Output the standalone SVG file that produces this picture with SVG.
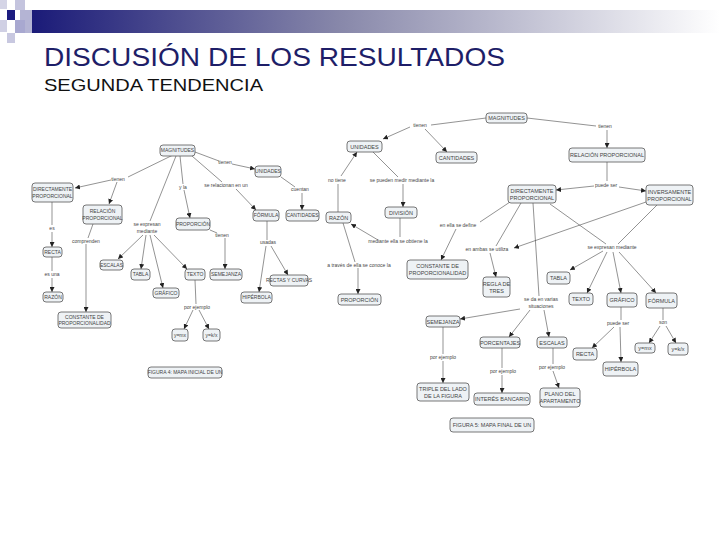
<svg xmlns="http://www.w3.org/2000/svg" width="720" height="540" viewBox="0 0 720 540">
<style>
.n rect{fill:#eef2f5;stroke:#555;stroke-width:0.8}
.n text{font-family:"Liberation Sans",Arial,sans-serif;font-size:5px;fill:#444;text-anchor:middle}
.r text{font-size:5.5px}
.l{font-family:"Liberation Sans",Arial,sans-serif;font-size:5px;fill:#444;text-anchor:middle}
.c path{fill:none;stroke:#4a4a4a;stroke-width:0.6}
.c path.a{marker-end:url(#ah)}
</style>
<defs>
<marker id="ah" markerUnits="userSpaceOnUse" markerWidth="5" markerHeight="5" refX="5" refY="2.5" orient="auto"><path d="M0,0 L5,2.5 L0,5 z" fill="#222"/></marker>
<linearGradient id="bar" x1="0" y1="0" x2="1" y2="0"><stop offset="0" stop-color="#1a1a78"/><stop offset="0.45" stop-color="#8888aa"/><stop offset="1" stop-color="#ffffff"/></linearGradient>
</defs>
<rect width="720" height="540" fill="#fff"/>
<g id="header">
<rect x="30" y="10" width="690" height="23" fill="url(#bar)"/>
<rect x="0" y="0" width="7" height="9" fill="#d4d4e6"/>
<rect x="15" y="0" width="10" height="10" fill="#c4c4de"/>
<rect x="7" y="10" width="8" height="10" fill="#1c1c80"/>
<rect x="20" y="10" width="12" height="23" fill="#b4b4d4"/>
<rect x="0" y="20" width="7" height="12" fill="#d0d0e4"/>
<rect x="15" y="20" width="10" height="13" fill="#a8a8d0"/>
<rect x="7" y="33" width="8" height="10" fill="#c8c8e0"/>
<text x="44" y="66" font-family="Liberation Sans,Arial,sans-serif" font-size="25" fill="#1e1e68" textLength="461" lengthAdjust="spacingAndGlyphs">DISCUSIÓN DE LOS RESULTADOS</text>
<text x="44" y="91" font-family="Liberation Sans,Arial,sans-serif" font-size="17" fill="#111" textLength="219" lengthAdjust="spacingAndGlyphs">SEGUNDA TENDENCIA</text>
</g>
<g id="connectors" class="c">
<path d="M173,155 L128,177"/>
<path class="a" d="M111,180 L75,188"/>
<path class="a" d="M117,182 L109,204"/>
<path d="M52,202 L52,225"/>
<path class="a" d="M52,232 L52,247"/>
<path d="M52,257 L52,271"/>
<path class="a" d="M52,278 L52,292"/>
<path d="M93,224 L88,238"/>
<path class="a" d="M86,244 L86,312"/>
<path d="M176,156 L150,221"/>
<path class="a" d="M143,235 L118,259"/>
<path class="a" d="M146,235 L141,269"/>
<path class="a" d="M150,235 L163,288"/>
<path class="a" d="M154,235 L187,269"/>
<path d="M180,156 L183,184"/>
<path class="a" d="M184,190 L190,218"/>
<path d="M195,152 L219,161"/>
<path class="a" d="M232,164 L255,169"/>
<path d="M192,156 L222,182"/>
<path class="a" d="M236,189 L256,210"/>
<path d="M281,177 L295,187"/>
<path class="a" d="M302,193 L302,210"/>
<path d="M210,230 L217,233"/>
<path class="a" d="M225,238 L225,269"/>
<path d="M267,221 L267,240"/>
<path class="a" d="M266,246 L259,292"/>
<path class="a" d="M271,246 L288,275"/>
<path d="M195,280 L196,304" stroke="#999"/>
<path class="a" d="M193,310 L184,329"/>
<path class="a" d="M199,310 L209,329"/>
<path d="M486,118 L431,125"/>
<path class="a" d="M410,127 L383,139"/>
<path class="a" d="M425,129 L447,152"/>
<path d="M527,118 L596,126"/>
<path class="a" d="M607,130 L607,148"/>
<path d="M607,162 L607,181"/>
<path class="a" d="M594,186 L556,190"/>
<path class="a" d="M619,187 L646,191"/>
<path d="M373,152 L398,177"/>
<path class="a" d="M403,184 L403,207"/>
<path d="M338,212 L338,184"/>
<path class="a" d="M341,176 L357,152"/>
<path d="M400,218 L400,237"/>
<path class="a" d="M378,240 L351,224"/>
<path d="M343,223 L355,262"/>
<path class="a" d="M358,268 L358,294"/>
<path d="M510,202 L480,222"/>
<path class="a" d="M456,229 L441,260"/>
<path d="M521,203 L496,246"/>
<path class="a" d="M646,202 L514,248"/>
<path class="a" d="M490,253 L496,277"/>
<path d="M533,203 L539,296"/>
<path d="M550,204 L606,244"/>
<path d="M657,205 L618,244"/>
<path class="a" d="M603,251 L570,270"/>
<path class="a" d="M607,252 L587,293"/>
<path class="a" d="M613,252 L621,293"/>
<path class="a" d="M619,252 L656,293"/>
<path class="a" d="M520,309 L460,319"/>
<path class="a" d="M530,310 L509,337"/>
<path class="a" d="M544,310 L549,337"/>
<path d="M443,327 L443,354"/>
<path class="a" d="M443,361 L443,383"/>
<path d="M502,348 L502,368"/>
<path class="a" d="M502,375 L502,393"/>
<path d="M553,348 L553,364"/>
<path class="a" d="M553,371 L559,388"/>
<path d="M621,307 L621,320"/>
<path class="a" d="M614,327 L592,348"/>
<path class="a" d="M620,327 L621,362"/>
<path d="M663,308 L663,320"/>
<path class="a" d="M660,326 L649,343"/>
<path class="a" d="M666,326 L676,343"/>
</g>
<g id="linklabels" class="l">
<text class="l" x="118" y="181">tienen</text>
<text class="l" x="52" y="230">es</text>
<text class="l" x="86" y="243">comprenden</text>
<text class="l" x="147" y="226">se expresan</text>
<text class="l" x="147" y="233">mediante</text>
<text class="l" x="183" y="189">y la</text>
<text class="l" x="225" y="164">tienen</text>
<text class="l" x="226" y="187">se relacionan en un</text>
<text class="l" x="300" y="191">cuentan</text>
<text class="l" x="222" y="237">tienen</text>
<text class="l" x="268" y="244">usadas</text>
<text class="l" x="52" y="276">es una</text>
<text class="l" x="197" y="309">por ejemplo</text>
<text class="l" x="420" y="127">tienen</text>
<text class="l" x="605" y="128">tienen</text>
<text class="l" x="606" y="187">puede ser</text>
<text class="l" x="337" y="182">no tiene</text>
<text class="l" x="402" y="182">se pueden medir mediante la</text>
<text class="l" x="458" y="227">en ella se define</text>
<text class="l" x="398" y="243">mediante ella se obtiene la</text>
<text class="l" x="359" y="267">a través de ella se conoce la</text>
<text class="l" x="487" y="251">en ambas se utiliza</text>
<text class="l" x="612" y="249">se expresan mediante</text>
<text class="l" x="541" y="301">se da en varias</text>
<text class="l" x="541" y="308">situaciones</text>
<text class="l" x="618" y="325">puede ser</text>
<text class="l" x="663" y="324">son</text>
<text class="l" x="443" y="359">por ejemplo</text>
<text class="l" x="503" y="373">por ejemplo</text>
<text class="l" x="552" y="369">por ejemplo</text>
</g>
<g id="L1" class="n"><rect x="160" y="145" width="35" height="11" rx="3"/><text x="177.5" y="152.3">MAGNITUDES</text></g>
<g id="L2" class="n"><rect x="32" y="183" width="41" height="19" rx="3"/><text x="52.5" y="191">DIRECTAMENTE</text><text x="52.5" y="198">PROPORCIONAL</text></g>
<g id="L3" class="n"><rect x="83" y="205" width="39" height="19" rx="3"/><text x="102.5" y="213">RELACIÓN</text><text x="102.5" y="220">PROPORCIONAL</text></g>
<g id="L4" class="n"><rect x="43" y="247" width="19" height="10" rx="3"/><text x="52.5" y="253.8">RECTA</text></g>
<g id="L5" class="n"><rect x="43" y="292" width="20" height="10" rx="3"/><text x="53" y="298.8">RAZÓN</text></g>
<g id="L6" class="n"><rect x="58" y="312" width="53" height="16" rx="3"/><text x="84.5" y="319">CONSTANTE DE</text><text x="84.5" y="325">PROPORCIONALIDAD</text></g>
<g id="L7" class="n"><rect x="255" y="166" width="26" height="11" rx="3"/><text x="268" y="173.3">UNIDADES</text></g>
<g id="L8" class="n"><rect x="176" y="218" width="34" height="12" rx="3"/><text x="193" y="225.8">PROPORCIÓN</text></g>
<g id="L9" class="n"><rect x="253" y="210" width="26" height="11" rx="3"/><text x="266" y="217.3">FÓRMULA</text></g>
<g id="L10" class="n"><rect x="286" y="210" width="33" height="11" rx="3"/><text x="302.5" y="217.3">CANTIDADES</text></g>
<g id="L11" class="n"><rect x="100" y="260" width="23" height="10" rx="3"/><text x="111.5" y="266.8">ESCALAS</text></g>
<g id="L12" class="n"><rect x="131" y="269" width="19" height="11" rx="3"/><text x="140.5" y="276.3">TABLA</text></g>
<g id="L13" class="n"><rect x="153" y="288" width="26" height="10" rx="3"/><text x="166" y="294.8">GRÁFICO</text></g>
<g id="L14" class="n"><rect x="185" y="269" width="20" height="11" rx="3"/><text x="195" y="276.3">TEXTO</text></g>
<g id="L15" class="n"><rect x="210" y="269" width="32" height="11" rx="3"/><text x="226" y="276.3">SEMEJANZA</text></g>
<g id="L16" class="n"><rect x="241" y="292" width="31" height="11" rx="3"/><text x="256.5" y="299.3">HIPÉRBOLA</text></g>
<g id="L17" class="n"><rect x="270" y="275" width="38" height="11" rx="3"/><text x="289" y="282.3">RECTAS Y CURVAS</text></g>
<g id="L18" class="n"><rect x="172" y="329" width="16" height="12" rx="3"/><text x="180" y="336.8">y=mx</text></g>
<g id="L19" class="n"><rect x="203" y="329" width="17" height="12" rx="3"/><text x="211.5" y="336.8">y=k/x</text></g>
<g id="L20" class="n"><rect x="148" y="367" width="74" height="11" rx="3"/><text x="185" y="374.3">FIGURA 4: MAPA INICIAL DE UN</text></g>
<g id="R1" class="n r"><rect x="486" y="113" width="41" height="10" rx="3"/><text x="506.5" y="120">MAGNITUDES</text></g>
<g id="R2" class="n r"><rect x="347" y="141" width="35" height="11" rx="3"/><text x="364.5" y="148.5">UNIDADES</text></g>
<g id="R3" class="n r"><rect x="436" y="152" width="41" height="11" rx="3"/><text x="456.5" y="159.5">CANTIDADES</text></g>
<g id="R4" class="n r"><rect x="569" y="148" width="76" height="14" rx="3"/><text x="607" y="157">RELACIÓN PROPORCIONAL</text></g>
<g id="R5" class="n r"><rect x="508" y="185" width="48" height="18" rx="3"/><text x="532" y="192.5">DIRECTAMENTE</text><text x="532" y="199.5">PROPORCIONAL</text></g>
<g id="R6" class="n r"><rect x="646" y="185" width="47" height="20" rx="3"/><text x="669.5" y="193.5">INVERSAMENTE</text><text x="669.5" y="200.5">PROPORCIONAL</text></g>
<g id="R7" class="n r"><rect x="326" y="212" width="25" height="11" rx="3"/><text x="338.5" y="219.5">RAZÓN</text></g>
<g id="R8" class="n r"><rect x="385" y="207" width="32" height="11" rx="3"/><text x="401" y="214.5">DIVISIÓN</text></g>
<g id="R9" class="n r"><rect x="407" y="260" width="61" height="19" rx="3"/><text x="437.5" y="268">CONSTANTE DE</text><text x="437.5" y="275">PROPORCIONALIDAD</text></g>
<g id="R10" class="n r"><rect x="338" y="294" width="43" height="11" rx="3"/><text x="359.5" y="301.5">PROPORCIÓN</text></g>
<g id="R11" class="n r"><rect x="483" y="277" width="27" height="20" rx="3"/><text x="496.5" y="285.5">REGLA DE</text><text x="496.5" y="292.5">TRES</text></g>
<g id="R12" class="n r"><rect x="547" y="272" width="23" height="12" rx="3"/><text x="558.5" y="280">TABLA</text></g>
<g id="R13" class="n r"><rect x="569" y="293" width="24" height="12" rx="3"/><text x="581" y="301">TEXTO</text></g>
<g id="R14" class="n r"><rect x="607" y="293" width="30" height="14" rx="3"/><text x="622" y="302">GRÁFICO</text></g>
<g id="R15" class="n r"><rect x="646" y="293" width="31" height="15" rx="3"/><text x="661.5" y="302.5">FÓRMULA</text></g>
<g id="R16" class="n r"><rect x="426" y="316" width="34" height="11" rx="3"/><text x="443" y="323.5">SEMEJANZA</text></g>
<g id="R17" class="n r"><rect x="480" y="337" width="40" height="11" rx="3"/><text x="500" y="344.5">PORCENTAJES</text></g>
<g id="R18" class="n r"><rect x="537" y="337" width="30" height="11" rx="3"/><text x="552" y="344.5">ESCALAS</text></g>
<g id="R19" class="n r"><rect x="573" y="348" width="24" height="12" rx="3"/><text x="585" y="356">RECTA</text></g>
<g id="R20" class="n r"><rect x="603" y="362" width="35" height="14" rx="3"/><text x="620.5" y="371">HIPÉRBOLA</text></g>
<g id="R21" class="n r"><rect x="635" y="343" width="20" height="10" rx="3"/><text x="645" y="350">y=mx</text></g>
<g id="R22" class="n r"><rect x="668" y="343" width="20" height="12" rx="3"/><text x="678" y="351">y=k/x</text></g>
<g id="R23" class="n r"><rect x="417" y="383" width="52" height="18" rx="3"/><text x="443" y="390.5">TRIPLE DEL LADO</text><text x="443" y="397.5">DE LA FIGURA</text></g>
<g id="R24" class="n r"><rect x="474" y="393" width="56" height="12" rx="3"/><text x="502" y="401">INTERÉS BANCARIO</text></g>
<g id="R25" class="n r"><rect x="540" y="388" width="40" height="19" rx="3"/><text x="560" y="396">PLANO DEL</text><text x="560" y="403">APARTAMENTO</text></g>
<g id="R26" class="n r"><rect x="450" y="418" width="84" height="14" rx="3"/><text x="492" y="427">FIGURA 5: MAPA FINAL DE UN</text></g>
</svg>
